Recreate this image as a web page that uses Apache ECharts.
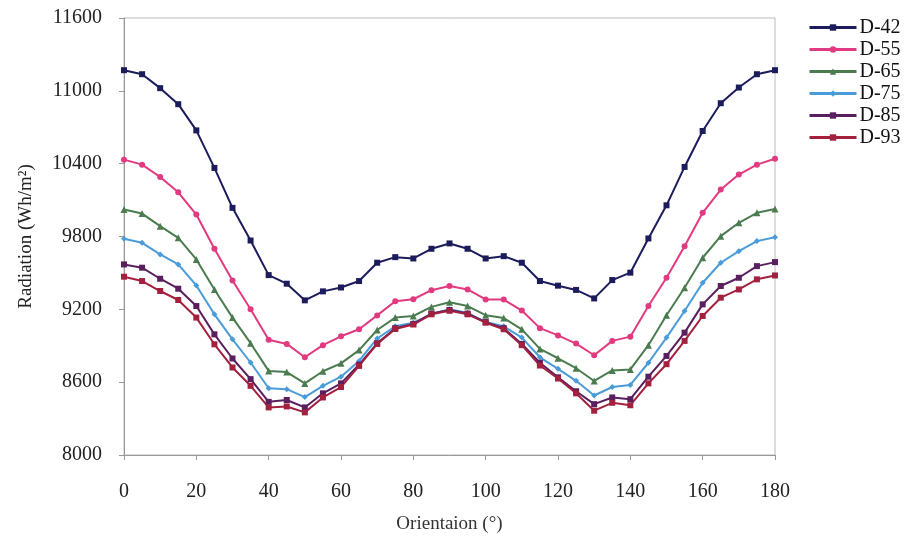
<!DOCTYPE html>
<html>
<head>
<meta charset="utf-8">
<script src="https://cdn.jsdelivr.net/npm/echarts@6/dist/echarts.min.js"></script>
<style>
  html, body { margin: 0; padding: 0; background: #fff; }
  #main { width: 913px; height: 537px; }
</style>
</head>
<body>
<div id="main"></div>
<script>
// 朝向角度 0..180，每5度一个点
var angles = [0, 5, 10, 15, 20, 25, 30, 35, 40, 45, 50, 55, 60, 65, 70, 75, 80, 85, 90,
  95, 100, 105, 110, 115, 120, 125, 130, 135, 140, 145, 150, 155, 160, 165, 170, 175, 180];

var d42 = [11170, 11137, 11022, 10890, 10674, 10365, 10036, 9767, 9482, 9411, 9274, 9348, 9380,
  9433, 9584, 9630, 9619, 9699, 9743, 9699, 9619, 9638, 9584, 9433, 9395, 9360, 9290,
  9441, 9502, 9784, 10057, 10373, 10669, 10898, 11027, 11137, 11170];
var d55 = [10433, 10392, 10290, 10164, 9981, 9699, 9438, 9200, 8950, 8915, 8805, 8905, 8978,
  9036, 9150, 9267, 9283, 9358, 9392, 9364, 9282, 9280, 9190, 9045, 8985, 8918, 8822,
  8940, 8975, 9227, 9460, 9720, 9995, 10187, 10310, 10392, 10441];
var d65 = [10022, 9989, 9885, 9789, 9611, 9364, 9132, 8921, 8693, 8683, 8590, 8690, 8755,
  8864, 9030, 9132, 9145, 9220, 9258, 9227, 9152, 9128, 9035, 8874, 8797, 8715, 8610,
  8697, 8705, 8905, 9151, 9378, 9625, 9803, 9913, 9995, 10027];
var d75 = [9781, 9748, 9652, 9570, 9397, 9159, 8953, 8762, 8550, 8542, 8477, 8570, 8645,
  8775, 8960, 9060, 9090, 9159, 9200, 9170, 9095, 9060, 8967, 8805, 8710, 8611, 8490,
  8560, 8577, 8760, 8967, 9186, 9419, 9584, 9679, 9762, 9794];
var d85 = [9570, 9543, 9452, 9370, 9227, 8994, 8795, 8625, 8438, 8453, 8392, 8508, 8590,
  8745, 8920, 9045, 9080, 9165, 9195, 9165, 9095, 9045, 8915, 8760, 8640, 8525, 8419,
  8474, 8460, 8645, 8816, 9008, 9241, 9392, 9460, 9556, 9589];
var d93 = [9469, 9433, 9351, 9277, 9132, 8912, 8721, 8570, 8392, 8400, 8351, 8474, 8560,
  8734, 8915, 9038, 9075, 9159, 9188, 9159, 9090, 9036, 8905, 8737, 8630, 8508, 8365,
  8430, 8410, 8590, 8748, 8940, 9145, 9296, 9364, 9447, 9479];

var names = ['D-42', 'D-55', 'D-65', 'D-75', 'D-85', 'D-93'];
var values = [d42, d55, d65, d75, d85, d93];
var colors = ['#1c1c5c', '#e23a80', '#4b7c50', '#4a9cd8', '#5a1f5e', '#a3203f'];
var symbols = ['rect', 'circle', 'triangle', 'diamond', 'rect', 'rect'];

var font = '"Liberation Serif", "DejaVu Serif", serif';

var myChart = echarts.init(document.getElementById('main'));

var series = [];
for (var i = 0; i < names.length; i++) {
  series.push({
    name: names[i],
    type: 'line',
    data: angles.map(function (a, k) { return [a, values[i][k]]; }),
    symbol: symbols[i],
    symbolSize: symbols[i] === 'triangle' ? 7 : 6,
    color: colors[i],
    lineStyle: { width: 2, color: colors[i] },
    itemStyle: { color: colors[i] },
    animation: false
  });
}

var option = {
  backgroundColor: '#fff',
  grid: {
    left: 124, right: 138, top: 18, bottom: 82,
    outerBoundsMode: 'none',
    show: true, borderColor: '#bbb', borderWidth: 1
  },
  legend: {
    orient: 'vertical',
    left: 803, top: 12,
    itemWidth: 47, itemHeight: 8,
    itemGap: 1,
    data: names,
    lineStyle: { width: 3 },
    textStyle: { fontFamily: font, fontSize: 20, color: '#111', lineHeight: 21, padding: [0, 0, 0, -2] }
  },
  xAxis: {
    type: 'value',
    min: 0, max: 180, interval: 20,
    name: 'Orientaion (°)',
    nameLocation: 'middle',
    nameGap: 60,
    nameTextStyle: { fontFamily: font, fontSize: 19, color: '#333' },
    axisLine: { lineStyle: { color: '#999' } },
    axisTick: { length: 5, lineStyle: { color: '#999' } },
    axisLabel: { fontFamily: font, fontSize: 20, color: '#222', margin: 27 },
    splitLine: { show: false }
  },
  yAxis: {
    type: 'value',
    min: 8000, max: 11600, interval: 600,
    name: 'Radiation (Wh/m²)',
    nameLocation: 'middle',
    nameGap: 88,
    nameTextStyle: { fontFamily: font, fontSize: 19, color: '#222' },
    axisLine: { show: true, lineStyle: { color: '#999' } },
    axisTick: { show: true, length: 5, lineStyle: { color: '#999' } },
    axisLabel: {
      fontFamily: font, fontSize: 20, color: '#222', margin: 22,
      formatter: function (v) { return String(v); }
    },
    splitLine: { show: false }
  },
  series: series
};

myChart.setOption(option);
</script>
</body>
</html>
